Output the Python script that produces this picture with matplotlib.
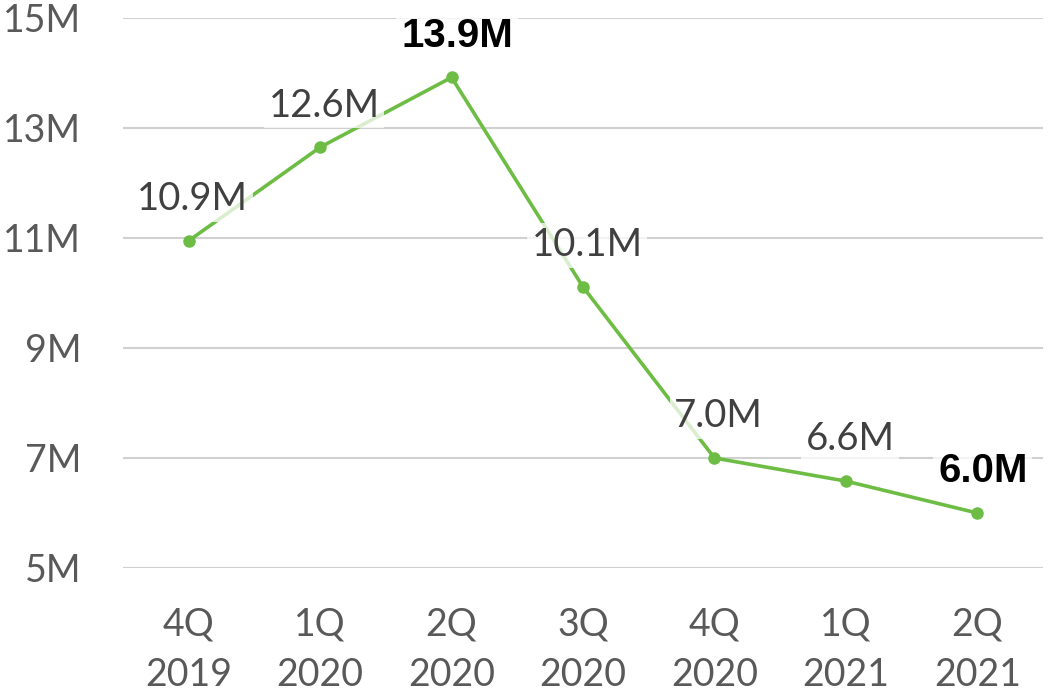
import matplotlib
matplotlib.use("Agg")
import matplotlib.pyplot as plt

categories = ["4Q\n2019", "1Q\n2020", "2Q\n2020", "3Q\n2020", "4Q\n2020", "1Q\n2021", "2Q\n2021"]
values = [10.95, 12.65, 13.92, 10.11, 7.0, 6.58, 6.0]
labels = ["10.9M", "12.6M", "13.9M", "10.1M", "7.0M", "6.6M", "6.0M"]
bold_flags = [False, False, True, False, False, False, True]
yticks = [5, 7, 9, 11, 13, 15]
ytick_labels = ["5M", "7M", "9M", "11M", "13M", "15M"]

GREEN = "#6dbd45"
GRAY = "#595959"
DARK = "#404040"

fig = plt.figure(figsize=(10.54, 6.95), dpi=100)
ax = fig.add_axes([123/1054, (695-568)/695, 920/1054, 550/695])
x = list(range(len(categories)))
ax.plot(x, values, color=GREEN, lw=2.6, marker="o", ms=8, zorder=2)

for xi, v, lab, b in zip(x, values, labels, bold_flags):
    if b:
        ax.annotate(lab, (xi, v), xytext=(4, 30), textcoords="offset points",
                    ha="center", va="center", fontsize=29, fontweight="bold",
                    family="Liberation Sans", color="black", zorder=3,
                    bbox=dict(boxstyle="square,pad=0.12", fc="white", ec="none", alpha=0.75))
    else:
        ax.annotate(lab, (xi, v), xytext=(3, 30), textcoords="offset points",
                    ha="center", va="center", fontsize=27.5, family="Lato",
                    color=DARK, zorder=3,
                    bbox=dict(boxstyle="square,pad=0.12", fc="white", ec="none", alpha=0.75))

ax.set_xlim(-0.5, len(categories) - 0.5)
ax.set_ylim(5, 15)
ax.set_yticks(yticks)
ax.set_yticklabels(ytick_labels)
ax.set_xticks(x)
ax.set_xticklabels(categories, linespacing=1.5)
ax.grid(axis="y", color="#d0d0d0", lw=1.5, zorder=0)
ax.set_axisbelow(True)
for s in ax.spines.values():
    s.set_visible(False)
ax.tick_params(axis="both", length=0, labelsize=27, labelcolor=GRAY)
ax.tick_params(axis="y", pad=30)
ax.tick_params(axis="x", pad=28)
for t in ax.get_xticklabels() + ax.get_yticklabels():
    t.set_family("Lato")

fig.savefig("out.png", dpi=100)
